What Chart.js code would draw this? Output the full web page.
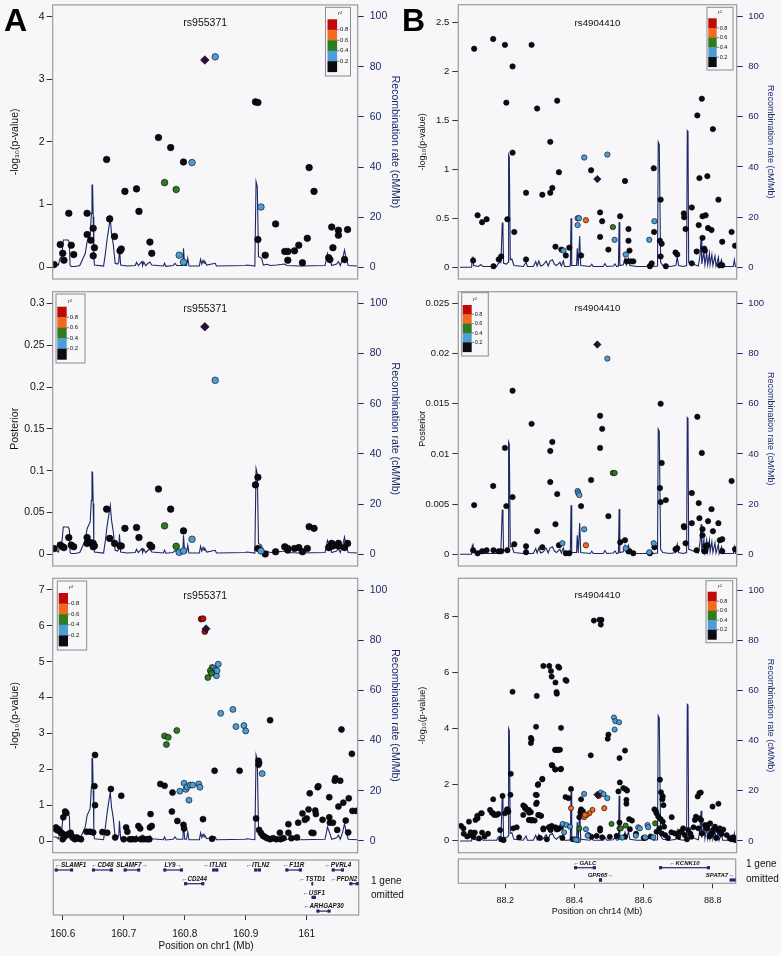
<!DOCTYPE html>
<html><head><meta charset="utf-8">
<script src="https://cdn.jsdelivr.net/npm/chart.js@4.4.1/dist/chart.umd.min.js"></script>
<style>
html,body{margin:0;padding:0;background:#f7f7f9;}
#wrap{position:relative;width:781px;height:956px;overflow:hidden;font-family:"Liberation Sans",Arial,Helvetica,sans-serif;}
canvas{position:absolute;left:0;top:0;}
.lbl{position:absolute;font-weight:bold;font-size:32px;line-height:1;color:#000;}
.om{position:absolute;font-size:10px;line-height:14.4px;color:#111;}
</style></head><body><div id="wrap">
<canvas id="a1" width="781" height="956"></canvas>
<canvas id="a2" width="781" height="956"></canvas>
<canvas id="a3" width="781" height="956"></canvas>
<canvas id="ag" width="781" height="956"></canvas>
<canvas id="b1" width="781" height="956"></canvas>
<canvas id="b2" width="781" height="956"></canvas>
<canvas id="b3" width="781" height="956"></canvas>
<canvas id="bg" width="781" height="956"></canvas>
<div class="lbl" style="left:4px;top:4px">A</div>
<div class="lbl" style="left:402px;top:4px">B</div>
<div class="om" style="left:371px;top:874px">1 gene<br>omitted</div>
<div class="om" style="left:746px;top:857px;line-height:14.7px">1 gene<br>omitted</div>
</div>
<script>
// ---------------- DATA ----------------
// Region A (chr1) : recombination rate
const A_REC_X = [160.5847,160.589,160.593,160.5956,160.5984,160.601,160.609,160.611,160.612,160.6137,160.620,160.628,160.637,160.640,160.645,160.647,160.648,160.649,160.650,160.651,160.652,160.667,160.670,160.673,160.678,160.680,160.683,160.686,160.690,160.692,160.693,160.695,160.705,160.719,160.721,160.724,160.730,160.731,160.733,160.736,160.740,160.743,160.746,160.765,160.767,160.769,160.781,160.784,160.787,160.797,160.798,160.800,160.803,160.805,160.807,160.824,160.826,160.828,160.830,160.832,160.833,160.836,160.850,160.852,160.899,160.902,160.915,160.917,160.919,160.921,160.926,160.929,160.935,160.940,160.951,160.964,160.967,160.989,161.030,161.032,161.034,161.037,161.041,161.049,161.052,161.055,161.059,161.062,161.064,161.068,161.083];
const A_REC_Y = [1.6,1.6,0.9,3.6,4.3,10.9,10.9,9.8,0.9,0.3,0.3,0.7,5.6,10.2,12.9,21.5,32.8,32.8,20.2,4.3,0.9,0.5,5.6,11.6,19.5,13.6,8.9,1.6,1.3,2.3,8.0,0.9,0.5,0.7,2.0,0.7,2.3,0.7,2.1,0.7,1.6,2.1,0.9,0.5,1.6,0.4,0.7,1.6,0.7,0.7,7.6,0.7,0.7,3.6,0.5,0.5,3.2,1.3,2.7,1.6,2.3,0.9,1.6,0.5,0.7,0.9,0.5,34.2,32.2,4.3,3.6,0.9,1.2,0.7,0.9,1.3,0.7,0.5,0.7,2.9,5.6,3.6,0.7,1.3,2.3,0.7,3.6,6.9,4.3,0.7,0.5];
// Region B (chr14) : recombination rate
const B_REC_X = [88.069,88.1027,88.1046,88.1066,88.1085,88.122,88.129,88.136,88.175,88.180,88.1875,88.1913,88.1933,88.195,88.204,88.208,88.2096,88.2116,88.2145,88.219,88.225,88.252,88.260,88.264,88.281,88.288,88.292,88.297,88.302,88.310,88.318,88.324,88.329,88.336,88.342,88.348,88.358,88.362,88.368,88.371,88.382,88.388,88.390,88.392,88.406,88.408,88.411,88.415,88.418,88.445,88.450,88.454,88.483,88.488,88.493,88.512,88.517,88.522,88.527,88.529,88.531,88.541,88.546,88.550,88.556,88.560,88.580,88.608,88.618,88.628,88.640,88.642,88.645,88.649,88.655,88.676,88.693,88.697,88.701,88.714,88.724,88.726,88.728,88.730,88.738,88.748,88.758,88.763,88.766,88.768,88.774,88.777,88.782,88.785,88.790,88.792,88.797,88.800,88.806,88.809,88.816,88.818,88.825,88.828,88.859,88.862,88.865,88.869];
const B_REC_Y = [0,0,3.5,4.3,0.7,0.3,1.0,0.3,0.3,1.6,2.0,17.8,14.0,1.6,1.3,2.0,44.8,44.0,3.0,3.3,0.7,0.3,2.0,0.3,0.3,2.3,0.5,2.5,0.5,1.0,2.5,0.5,2.5,3.0,1.3,0.7,2.0,0.5,2.5,0.3,0.3,0.5,19.5,0.7,0.7,7.6,0.5,12.5,0.7,0.3,1.2,0.3,0.3,1.5,0.3,0.5,1.3,0.3,0.5,18.0,0.7,1.0,3.5,1.0,3.6,0.7,0.3,0.3,1.5,0.3,0.5,49.9,49.0,2.0,0.7,0.3,0.7,4.0,0.7,0.3,0.7,54.4,54.0,2.0,1.6,1.0,0.5,5.0,12.0,1.3,6.0,1.0,5.6,1.0,5.6,1.0,5.0,0.7,4.5,0.5,4.0,0.3,3.0,0.3,0.3,3.0,0.3,0.3];

// Panel A1: -log10(p) ; [position Mb, value] grouped by r2 class
const A1_BLACK = [[160.586,0.04],[160.596,0.36],[160.600,0.22],[160.602,0.11],[160.610,0.86],[160.614,0.35],[160.618,0.20],[160.640,0.86],[160.640,0.52],[160.646,0.43],[160.650,0.62],[160.652,0.31],[160.650,0.18],[160.672,1.72],[160.677,0.77],[160.685,0.49],[160.694,0.26],[160.696,0.29],[160.702,1.21],[160.721,1.25],[160.725,0.89],[160.743,0.40],[160.746,0.22],[160.757,2.07],[160.777,1.91],[160.798,1.68],[160.916,2.64],[160.920,2.63],[160.920,0.44],[160.932,0.19],[160.949,0.69],[160.964,0.25],[160.969,0.25],[160.969,0.11],[160.980,0.26],[160.987,0.35],[160.993,0.07],[161.001,0.46],[161.004,1.59],[161.012,1.21],[161.036,0.15],[161.038,0.12],[161.041,0.64],[161.043,0.31],[161.052,0.59],[161.052,0.51],[161.062,0.12],[161.067,0.60]];
const A1_BLUE = [[160.791,0.19],[160.798,0.08],[160.812,1.67],[160.850,3.36],[160.925,0.96]];
const A1_GREEN = [[160.767,1.35],[160.786,1.24]];
const A1_LEAD = [[160.833,3.31]];
// Panel A2: posterior
const A2_BLACK = [[160.586,0.0068],[160.596,0.011],[160.600,0.009],[160.602,0.008],[160.610,0.020],[160.614,0.011],[160.618,0.009],[160.640,0.020],[160.640,0.013],[160.646,0.014],[160.650,0.013],[160.652,0.010],[160.650,0.009],[160.672,0.054],[160.677,0.019],[160.685,0.013],[160.694,0.010],[160.696,0.010],[160.702,0.031],[160.721,0.032],[160.725,0.020],[160.743,0.011],[160.746,0.009],[160.757,0.078],[160.777,0.054],[160.798,0.028],[160.916,0.083],[160.920,0.092],[160.920,0.007],[160.932,0.0004],[160.949,0.003],[160.964,0.009],[160.969,0.007],[160.969,0.005],[160.980,0.007],[160.987,0.008],[160.993,0.003],[161.001,0.007],[161.004,0.033],[161.012,0.031],[161.036,0.008],[161.038,0.009],[161.041,0.013],[161.043,0.010],[161.052,0.013],[161.052,0.010],[161.062,0.008],[161.067,0.013]];
const A2_BLUE = [[160.791,0.0024],[160.798,0.004],[160.812,0.018],[160.850,0.208],[160.925,0.004]];
const A2_GREEN = [[160.767,0.034],[160.786,0.0096]];
const A2_LEAD = [[160.833,0.272]];
// Panel A3: -log10(p)
const A3_BLACK = [[160.586,0.35],[160.589,0.38],[160.591,0.30],[160.593,0.33],[160.596,0.26],[160.598,0.22],[160.600,0.20],[160.601,0.66],[160.604,0.82],[160.606,0.78],[160.600,0.05],[160.603,0.12],[160.607,0.17],[160.610,0.20],[160.613,0.23],[160.616,0.12],[160.620,0.05],[160.623,0.10],[160.626,0.07],[160.630,0.05],[160.639,0.26],[160.645,0.26],[160.650,0.24],[160.653,2.40],[160.652,1.53],[160.653,1.00],[160.665,0.25],[160.673,0.23],[160.679,1.45],[160.686,0.10],[160.696,1.26],[160.700,0.05],[160.704,0.38],[160.706,0.26],[160.710,0.05],[160.714,0.05],[160.719,0.05],[160.724,0.42],[160.727,0.35],[160.728,0.05],[160.733,0.05],[160.738,0.05],[160.743,0.38],[160.746,0.42],[160.744,0.75],[160.742,0.05],[160.760,1.59],[160.767,1.54],[160.780,1.35],[160.779,0.82],[160.788,0.56],[160.798,0.45],[160.799,0.35],[160.830,0.61],[160.845,0.06],[160.849,1.96],[160.890,1.96],[160.940,3.37],[160.921,2.24],[160.922,2.18],[160.921,2.13],[160.917,0.63],[160.922,0.31],[160.925,0.22],[160.928,0.15],[160.931,0.12],[160.935,0.08],[160.940,0.05],[160.945,0.08],[160.950,0.05],[160.956,0.23],[160.957,0.05],[160.962,0.08],[160.970,0.23],[160.970,0.47],[160.975,0.08],[160.984,0.10],[160.986,0.51],[160.993,0.77],[160.997,0.59],[161.000,0.63],[161.003,0.88],[161.005,1.33],[161.008,0.23],[161.011,0.22],[161.014,0.85],[161.015,0.75],[161.018,1.50],[161.019,1.53],[161.026,0.59],[161.037,1.22],[161.037,0.66],[161.038,0.51],[161.043,0.51],[161.046,1.68],[161.047,1.75],[161.055,1.68],[161.050,0.31],[161.052,0.96],[161.060,1.07],[161.064,0.57],[161.068,0.24],[161.069,1.19],[161.074,2.43],[161.075,0.84],[161.081,0.84],[161.057,3.11]];
const A3_BLUE = [[160.792,1.39],[160.799,1.61],[160.802,1.44],[160.804,1.51],[160.809,1.56],[160.813,1.56],[160.823,1.59],[160.825,1.50],[160.807,1.14],[160.845,4.84],[160.847,4.82],[160.850,4.77],[160.852,4.61],[160.855,4.93],[160.853,4.75],[160.859,3.56],[160.879,3.67],[160.884,3.19],[160.897,3.22],[160.900,3.07],[160.927,1.88]];
const A3_GREEN = [[160.767,2.93],[160.773,2.89],[160.770,2.69],[160.787,3.08],[160.838,4.56],[160.842,4.75],[160.844,4.68]];
const A3_RED = [[160.827,6.19],[160.830,6.20],[160.833,5.84]];
const A3_LEAD = [[160.835,5.92]];

// Panel B1: -log10(p)
const B1_BLACK = [[88.110,2.23],[88.120,0.53],[88.133,0.46],[88.146,0.49],[88.107,0.07],[88.165,2.33],[88.166,0.01],[88.181,0.08],[88.188,0.11],[88.199,2.27],[88.203,1.68],[88.206,0.49],[88.221,2.05],[88.221,1.17],[88.226,0.36],[88.260,0.76],[88.260,0.08],[88.276,2.27],[88.292,1.62],[88.307,0.74],[88.330,0.76],[88.330,1.28],[88.336,0.81],[88.345,0.21],[88.350,1.70],[88.355,0.97],[88.362,0.18],[88.375,0.12],[88.385,0.20],[88.419,0.12],[88.448,0.99],[88.474,0.56],[88.474,0.31],[88.480,0.47],[88.498,0.18],[88.532,0.52],[88.546,0.88],[88.551,0.06],[88.556,0.39],[88.556,0.27],[88.559,0.17],[88.563,0.06],[88.570,0.06],[88.618,0.01],[88.623,0.04],[88.629,1.01],[88.630,0.36],[88.649,0.69],[88.647,0.27],[88.652,0.24],[88.649,0.11],[88.664,0.01],[88.692,0.15],[88.697,0.13],[88.716,0.55],[88.717,0.51],[88.721,0.39],[88.739,0.61],[88.739,0.04],[88.755,1.55],[88.759,0.43],[88.761,0.91],[88.768,1.72],[88.770,0.52],[88.770,0.30],[88.775,0.19],[88.777,0.17],[88.779,0.53],[88.784,0.93],[88.786,0.40],[88.796,0.38],[88.800,1.41],[88.753,0.16],[88.816,0.69],[88.820,0.02],[88.827,0.02],[88.827,0.26],[88.854,0.36],[88.864,0.22]];
const B1_BLUE = [[88.368,0.17],[88.409,0.50],[88.413,0.50],[88.409,0.43],[88.428,1.12],[88.495,1.15],[88.516,0.28],[88.548,0.13],[88.616,0.28],[88.631,0.47]];
const B1_GREEN = [[88.511,0.41]];
const B1_ORANGE = [[88.433,0.48]];
const B1_LEAD = [[88.466,0.90]];
// Panel B2: posterior
const B2_BLACK = [[88.110,0.0049],[88.107,0.0004],[88.120,0.0001],[88.133,0.0003],[88.146,0.0004],[88.165,0.0068],[88.166,0.0004],[88.181,0.0003],[88.188,0.0003],[88.199,0.0106],[88.203,0.0048],[88.206,0.0004],[88.221,0.0163],[88.221,0.0057],[88.226,0.0010],[88.260,0.0008],[88.260,0.0002],[88.276,0.0130],[88.292,0.0023],[88.307,0.0007],[88.330,0.0072],[88.330,0.0103],[88.336,0.0112],[88.345,0.0030],[88.350,0.0060],[88.355,0.0009],[88.375,0.0001],[88.385,0.0001],[88.419,0.0048],[88.448,0.0074],[88.474,0.0138],[88.474,0.0106],[88.480,0.0125],[88.498,0.0038],[88.532,0.0012],[88.546,0.0014],[88.556,0.0003],[88.559,0.0003],[88.570,0.0001],[88.618,0.0001],[88.631,0.0007],[88.649,0.0150],[88.647,0.0066],[88.652,0.0091],[88.649,0.0052],[88.664,0.0054],[88.692,0.0005],[88.697,0.0006],[88.716,0.0028],[88.717,0.0027],[88.721,0.0011],[88.739,0.0061],[88.739,0.0031],[88.755,0.0137],[88.759,0.0051],[88.761,0.0036],[88.768,0.0101],[88.770,0.0025],[88.770,0.0019],[88.775,0.0003],[88.777,0.0003],[88.779,0.0008],[88.784,0.0009],[88.786,0.0033],[88.796,0.0045],[88.800,0.0023],[88.816,0.0031],[88.820,0.0014],[88.827,0.0015],[88.827,0.0003],[88.854,0.0073],[88.864,0.0005],[88.753,0.0004]];
const B2_BLUE = [[88.365,0.0011],[88.409,0.0063],[88.411,0.0061],[88.414,0.0059],[88.428,0.0025],[88.495,0.0195],[88.548,0.0006],[88.616,0.0002],[88.629,0.0011]];
const B2_GREEN = [[88.511,0.0081],[88.516,0.0081]];
const B2_ORANGE = [[88.433,0.0009]];
const B2_LEAD = [[88.466,0.0209]];
// Panel B3: -log10(p)
const B3_BLACK = [[88.456,7.86],[88.472,7.89],[88.478,7.89],[88.476,7.72],[88.310,6.24],[88.327,6.24],[88.332,6.06],[88.334,5.86],[88.345,5.65],[88.353,6.22],[88.356,6.18],[88.348,5.31],[88.349,5.25],[88.374,5.74],[88.377,5.71],[88.221,5.32],[88.291,5.17],[88.289,4.07],[88.361,4.03],[88.274,3.67],[88.276,3.61],[88.274,3.49],[88.345,3.25],[88.351,3.25],[88.358,3.25],[88.336,2.69],[88.345,2.54],[88.361,2.57],[88.307,2.21],[88.295,2.02],[88.447,3.05],[88.498,3.79],[88.496,3.64],[88.546,3.22],[88.530,2.95],[88.531,2.08],[88.527,1.76],[88.541,1.88],[88.548,1.84],[88.552,1.79],[88.550,1.46],[88.550,1.32],[88.390,1.85],[88.374,1.56],[88.383,1.52],[88.419,1.48],[88.216,2.39],[88.215,1.64],[88.192,1.60],[88.209,1.04],[88.165,1.48],[88.180,0.96],[88.165,0.98],[88.205,1.12],[88.288,1.64],[88.291,1.36],[88.252,1.26],[88.257,1.16],[88.263,1.10],[88.268,1.10],[88.274,1.02],[88.268,0.74],[88.276,0.72],[88.285,0.72],[88.297,0.92],[88.303,0.89],[88.310,0.44],[88.327,0.48],[88.334,0.53],[88.345,0.48],[88.353,0.42],[88.361,0.48],[88.419,1.12],[88.417,1.02],[88.424,1.06],[88.419,0.92],[88.414,0.84],[88.474,0.44],[88.474,0.36],[88.530,0.65],[88.558,0.77],[88.566,0.72],[88.631,1.12],[88.635,1.06],[88.647,2.18],[88.650,1.73],[88.655,1.58],[88.637,0.98],[88.642,0.86],[88.649,0.77],[88.655,0.68],[88.659,0.50],[88.645,0.44],[88.637,0.32],[88.652,0.26],[88.662,0.20],[88.654,1.48],[88.657,1.27],[88.681,0.84],[88.756,1.58],[88.761,1.70],[88.765,1.72],[88.799,1.22],[88.816,1.32],[88.690,0.26],[88.700,0.14],[88.705,0.32],[88.714,0.44],[88.719,0.20],[88.729,0.38],[88.738,0.14],[88.744,0.48],[88.748,0.74],[88.751,0.86],[88.758,0.44],[88.768,0.26],[88.777,0.56],[88.782,0.44],[88.792,0.62],[88.797,0.26],[88.806,0.50],[88.816,0.36],[88.825,0.24],[88.830,0.40],[88.849,0.08],[88.857,0.12],[88.760,0.80],[88.766,0.74],[88.785,0.56],[88.800,0.38],[88.820,0.44],[88.854,0.05],[88.862,0.10],[88.072,0.53],[88.079,0.44],[88.095,0.68],[88.098,0.20],[88.108,0.14],[88.112,0.29],[88.114,0.74],[88.120,0.80],[88.124,0.08],[88.130,0.98],[88.133,0.29],[88.161,1.00],[88.168,0.92],[88.175,0.92],[88.185,0.38],[88.188,0.05],[88.199,0.98],[88.207,1.10],[88.223,0.44],[88.233,0.48],[88.252,0.92],[88.257,1.21],[88.262,1.12],[88.269,1.00],[88.271,0.74],[88.278,0.74],[88.289,1.31],[88.291,1.63],[88.294,1.99],[88.307,2.19],[88.295,0.92],[88.303,0.89],[88.310,0.40],[88.334,2.70],[88.344,2.55],[88.360,2.55],[88.344,3.24],[88.353,3.24],[88.349,0.40],[88.326,0.48],[88.331,0.38],[88.119,0.89],[88.132,0.98],[88.156,1.10],[88.080,0.25],[88.090,0.15],[88.100,0.30],[88.140,0.15],[88.150,0.25],[88.195,0.02],[88.240,0.12],[88.300,0.10],[88.320,0.05],[88.365,0.10],[88.395,0.05],[88.440,0.20],[88.449,0.14],[88.464,0.17],[88.480,0.12],[88.502,0.14],[88.522,0.17],[88.546,0.14],[88.560,0.41],[88.578,0.25],[88.600,0.10],[88.620,0.15],[88.670,0.10],[88.680,0.30],[88.710,0.30],[88.725,0.05],[88.735,0.25],[88.790,0.15],[88.810,0.10],[88.840,0.20],[88.865,0.02]];
const B3_BLUE = [[88.514,4.40],[88.518,4.27],[88.529,4.23],[88.516,3.97],[88.428,1.67],[88.476,1.72],[88.484,1.66],[88.495,1.52],[88.366,0.60],[88.377,0.56],[88.387,0.50],[88.370,0.30],[88.433,0.41],[88.438,0.18],[88.584,0.48],[88.589,0.44],[88.611,0.56],[88.613,0.48],[88.604,0.12],[88.628,0.12],[88.577,0.18],[88.538,0.11],[88.401,0.05],[88.411,0.02],[88.405,0.03]];
const B3_GREEN = [[88.414,0.44],[88.507,0.60],[88.530,0.44],[88.534,0.44],[88.548,0.54],[88.633,0.62]];
const B3_ORANGE = [[88.390,1.16],[88.486,1.16],[88.452,1.10],[88.443,0.98],[88.435,0.92],[88.428,0.84],[88.430,0.92]];
const B3_RED = [[88.470,1.60]];
const B3_LEAD = [[88.466,1.64]];

// Tick values
const TICKS_A1 = [0,1,2,3,4];
const TICKS_POST_A = [0,0.05,0.1,0.15,0.2,0.25,0.3];
const TICKS_A3 = [0,1,2,3,4,5,6,7];
const TICKS_B1 = [0,0.5,1,1.5,2,2.5];
const TICKS_POST_B = [0,0.005,0.01,0.015,0.02,0.025];
const TICKS_B3 = [0,2,4,6,8];
const TICKS_REC = [0,20,40,60,80,100];
const TICKS_XA = [160.6,160.7,160.8,160.9,161];
const TICKS_XB = [88.2,88.4,88.6,88.8];
const LEG_LABELS = ['0.8','0.6','0.4','0.2'];

// Genes
const GA_NAME = ['SLAMF1','CD48','SLAMF7','LY9','ITLN1','ITLN2','F11R','PVRL4','CD244','TSTD1','PFDN2','USF1','ARHGAP30'];
const GA_START = [160.587,160.648,160.700,160.765,160.845,160.914,160.965,161.041,160.799,161.008,161.070,161.008,161.016];
const GA_END = [160.617,160.682,160.727,160.797,160.855,160.925,160.992,161.061,160.832,161.010,161.085,161.015,161.039];
const GA_STRAND = ['-','-','+','+','-','-','-','-','-','-','-','-','-'];
const GA_ROW = [0,0,0,0,0,0,0,0,1,1,1,2,3];
const GB_NAME = ['GALC','KCNK10','GPR65','SPATA7'];
const GB_START = [88.399,88.645,88.471,88.849];
const GB_END = [88.462,88.792,88.480,88.866];
const GB_STRAND = ['-','-','+','+'];
const GB_ROW = [0,0,1,1];

// ---------------- STYLE / RENDER ----------------
const FONT = '"Liberation Sans", Arial, Helvetica, sans-serif';
Chart.defaults.font.family = FONT;
const BG = '#f7f7f9';
const NAVY = '#1c2767';
const FRAME = '#9a9a9a';
const R2COL = ['#0b0b14','#4d9ed8','#2f7b1f','#f26a1f','#c00a0a','#2a0e36'];
const pts = a => a.map(p => ({x: p[0], y: p[1]}));

function panelPlugin(o) {
  return { id: 'deco', afterDraw(chart) {
    const {ctx, chartArea: a} = chart;
    ctx.save();
    ctx.strokeStyle = FRAME; ctx.lineWidth = 1.2;
    ctx.strokeRect(a.left, a.top, a.right - a.left, a.bottom - a.top);
    ctx.fillStyle = '#111'; ctx.textAlign = 'center'; ctx.textBaseline = 'middle';
    ctx.font = o.titleFs + 'px ' + FONT;
    ctx.fillText(o.title, (a.left + a.right) / 2, o.titleY);
    const L = o.leg;
    ctx.fillStyle = BG; ctx.fillRect(L.x, L.y, L.w, L.h);
    ctx.strokeStyle = '#8a8a8a'; ctx.lineWidth = 1; ctx.strokeRect(L.x, L.y, L.w, L.h);
    const seg = (L.bb - L.bt) / 5;
    [4,3,2,1,0].forEach((c, i) => { ctx.fillStyle = R2COL[c]; ctx.fillRect(L.bx, L.bt + i * seg, L.bw, seg + 0.4); });
    ctx.strokeStyle = '#333'; ctx.lineWidth = 0.6; ctx.fillStyle = '#111';
    ctx.font = o.legFs + 'px ' + FONT; ctx.textAlign = 'left';
    LEG_LABELS.forEach((t, i) => {
      const yy = L.bt + (i + 1) * seg;
      ctx.beginPath(); ctx.moveTo(L.bx + L.bw, yy); ctx.lineTo(L.bx + L.bw + 2.4, yy); ctx.stroke();
      ctx.fillText(t, L.bx + L.bw + 3, yy);
    });
    ctx.font = 'italic ' + o.legFs + 'px ' + FONT; ctx.textAlign = 'center';
    ctx.fillText('r\u00B2', L.bx + L.bw + 3, L.bt - 5.5);
    ctx.restore();
  }};
}

function panel(id, o) {
  const groups = [[o.lead, 5], [o.red, 4], [o.orange, 3], [o.green, 2], [o.blue, 1], [o.black, 0]];
  const datasets = [];
  groups.forEach(([arr, c], k) => {
    if (!arr) return;
    datasets.push({ type: 'scatter', data: pts(arr), xAxisID: 'x', yAxisID: 'y', order: k,
      pointBackgroundColor: R2COL[c], pointBorderColor: '#000', pointBorderWidth: 0.6,
      pointRadius: c === 5 ? o.r + 1 : o.r, pointHoverRadius: 0,
      pointStyle: c === 5 ? 'rectRot' : 'circle' });
  });
  datasets.push({ type: 'line', data: o.rx.map((x, i) => ({x: x, y: o.ry[i]})), xAxisID: 'x', yAxisID: 'y2', order: 6,
    borderColor: NAVY, borderWidth: 1.1, pointRadius: 0, tension: 0, fill: false, showLine: true });
  new Chart(document.getElementById(id), {
    type: 'scatter',
    data: { datasets },
    options: {
      responsive: false, animation: false, devicePixelRatio: 1, events: [],
      layout: { padding: { left: o.pl, right: o.prt, top: o.top, bottom: 956 - o.bottom } },
      plugins: { legend: { display: false }, tooltip: { enabled: false } },
      scales: {
        x: { type: 'linear', display: false, min: o.xmin, max: o.xmax },
        y: { type: 'linear', position: 'left', min: o.ymin, max: o.ymax,
          afterBuildTicks: s => { s.ticks = o.yt.map(v => ({value: v})); },
          afterFit: s => { s.width = o.wl; s.paddingTop = 0; s.paddingBottom = 0; },
          ticks: { autoSkip: false, callback: v => String(v), font: { size: o.fs }, color: '#111', padding: o.lpad },
          grid: { drawOnChartArea: false, drawTicks: true, tickLength: 6, color: '#333', tickColor: '#333', lineWidth: 1 },
          border: { display: false },
          title: { display: true, text: o.ylab, font: { size: o.tfs }, color: '#111', padding: 0 } },
        y2: { type: 'linear', position: 'right', min: -4.67, max: 104.67,
          afterBuildTicks: s => { s.ticks = TICKS_REC.map(v => ({value: v})); },
          afterFit: s => { s.width = o.wr; s.paddingTop = 0; s.paddingBottom = 0; },
          ticks: { autoSkip: false, callback: v => String(v), font: { size: o.fs }, color: NAVY, padding: o.rpad },
          grid: { drawOnChartArea: false, drawTicks: true, tickLength: 6, color: NAVY, tickColor: NAVY, lineWidth: 1 },
          border: { display: false },
          title: { display: true, text: 'Recombination rate (cM/Mb)', font: { size: o.tfs }, color: NAVY, padding: 0 } }
      }
    },
    plugins: [panelPlugin(o)]
  });
}

function genePlugin(g) {
  return { id: 'genes', afterDraw(chart) {
    const {ctx, chartArea: a, scales: {x}} = chart;
    ctx.save();
    ctx.strokeStyle = FRAME; ctx.lineWidth = 1.2;
    ctx.strokeRect(a.left, a.top, a.right - a.left, a.bottom - a.top);
    ctx.font = 'italic bold ' + g.fs + 'px ' + FONT;
    ctx.textBaseline = 'middle'; ctx.textAlign = 'left';
    for (let i = 0; i < g.names.length; i++) {
      const x0 = x.getPixelForValue(g.start[i]), x1 = x.getPixelForValue(g.end[i]);
      const yy = a.top + g.row0 + g.rows[i] * g.pitch;
      const w = Math.max(x1 - x0, 1.5);
      ctx.fillStyle = NAVY;
      ctx.fillRect(x0, yy - 0.6, w, 1.2);
      const bw = Math.min(3, w);
      ctx.fillRect(x0, yy - 1.6, bw, 3.2);
      ctx.fillRect(x0 + w - bw, yy - 1.6, bw, 3.2);
      const label = g.strand[i] === '+' ? g.names[i] + '\u2192' : '\u2190' + g.names[i];
      const tw = ctx.measureText(label).width;
      let lx = (x0 + x1) / 2 - tw / 2;
      lx = Math.max(a.left + 1.5, Math.min(a.right - 1.5 - tw, lx));
      ctx.fillStyle = '#111';
      ctx.fillText(label, lx, yy - g.lab);
    }
    ctx.restore();
  }};
}

function geneTrack(id, g) {
  new Chart(document.getElementById(id), {
    type: 'scatter',
    data: { datasets: [{ data: [] }] },
    options: {
      responsive: false, animation: false, devicePixelRatio: 1, events: [],
      layout: { padding: { left: g.l, right: 781 - g.r, top: g.t, bottom: 956 - g.b - g.h } },
      plugins: { legend: { display: false }, tooltip: { enabled: false } },
      scales: {
        x: { type: 'linear', position: 'bottom', min: g.xmin, max: g.xmax,
          afterBuildTicks: s => { s.ticks = g.ticks.map(v => ({value: v})); },
          afterFit: s => { s.height = g.h; s.paddingLeft = 0; s.paddingRight = 0; },
          ticks: { autoSkip: false, maxRotation: 0, callback: v => String(v), font: { size: g.tickFs }, color: '#111', padding: g.tpad },
          grid: { drawOnChartArea: false, drawTicks: true, tickLength: 5, color: '#333', tickColor: '#333' },
          border: { display: false },
          title: { display: true, text: g.xlab, font: { size: g.titleFs }, color: '#111', padding: 0 } },
        y: { display: false, min: 0, max: 1 }
      }
    },
    plugins: [genePlugin(g)]
  });
}

const COLA = { xmin: 160.5836, xmax: 161.0836, pl: 8.7, wl: 44, wr: 43.6, prt: 379.7, fs: 10.5, tfs: 10.5, lpad: 2, rpad: 6, r: 3.3, titleFs: 10.5, legFs: 6, title: 'rs955371', rx: A_REC_X, ry: A_REC_Y };
const COLB = { xmin: 88.0642, xmax: 88.8688, pl: 417.6, wl: 40.7, wr: 38.7, prt: 5.6, fs: 9.5, tfs: 9, lpad: 3, rpad: 5.5, r: 2.7, titleFs: 9.7, legFs: 5.6, title: 'rs4904410', rx: B_REC_X, ry: B_REC_Y };
const LOGP = '-log\u2081\u2080(p-value)';

panel('a1', Object.assign({}, COLA, { top: 4.7, bottom: 279, ymin: -0.19, ymax: 4.19, yt: TICKS_A1, ylab: LOGP, titleY: 23,
  black: A1_BLACK, blue: A1_BLUE, green: A1_GREEN, lead: A1_LEAD,
  leg: { x: 325.5, y: 7.3, w: 25, h: 68.7, bx: 327.5, bw: 9.6, bt: 19.3, bb: 71.7 } }));
panel('a2', Object.assign({}, COLA, { top: 291.7, bottom: 566, ymin: -0.014, ymax: 0.314, yt: TICKS_POST_A, ylab: 'Posterior', titleY: 309.3,
  black: A2_BLACK, blue: A2_BLUE, green: A2_GREEN, lead: A2_LEAD,
  leg: { x: 56, y: 294, w: 29, h: 69, bx: 57.3, bw: 9.4, bt: 306.7, bb: 359.3 } }));
panel('a3', Object.assign({}, COLA, { top: 578.3, bottom: 852.7, ymin: -0.326, ymax: 7.326, yt: TICKS_A3, ylab: LOGP, titleY: 596, r: 3,
  black: A3_BLACK, blue: A3_BLUE, green: A3_GREEN, red: A3_RED, lead: A3_LEAD,
  leg: { x: 57.3, y: 581, w: 29.4, h: 69, bx: 58.7, bw: 9.3, bt: 593, bb: 646 } }));
panel('b1', Object.assign({}, COLB, { top: 4.7, bottom: 279, ymin: -0.12, ymax: 2.68, yt: TICKS_B1, ylab: LOGP, titleY: 23,
  black: B1_BLACK, blue: B1_BLUE, green: B1_GREEN, orange: B1_ORANGE, lead: B1_LEAD,
  leg: { x: 707, y: 7.3, w: 26, h: 62.7, bx: 708.3, bw: 8.4, bt: 18.3, bb: 66.7 } }));
panel('b2', Object.assign({}, COLB, { top: 291.7, bottom: 566, ymin: -0.001167, ymax: 0.026167, yt: TICKS_POST_B, ylab: 'Posterior', titleY: 308.3,
  black: B2_BLACK, blue: B2_BLUE, green: B2_GREEN, orange: B2_ORANGE, lead: B2_LEAD,
  leg: { x: 461.7, y: 292.7, w: 26.6, h: 63.3, bx: 462.7, bw: 9, bt: 305, bb: 351.7 } }));
panel('b3', Object.assign({}, COLB, { top: 578.3, bottom: 852.7, ymin: -0.429, ymax: 9.371, yt: TICKS_B3, ylab: LOGP, titleY: 595, r: 2.6,
  black: B3_BLACK, blue: B3_BLUE, green: B3_GREEN, orange: B3_ORANGE, red: B3_RED, lead: B3_LEAD,
  leg: { x: 706, y: 580.7, w: 26.7, h: 62, bx: 707.7, bw: 9, bt: 591.7, bb: 639.3 } }));

geneTrack('ag', { l: 53.3, r: 358.7, t: 860, b: 915, h: 37, xmin: 160.5846, xmax: 161.0852, ticks: TICKS_XA,
  tickFs: 10, titleFs: 10, tpad: 8, xlab: 'Position on chr1 (Mb)',
  names: GA_NAME, start: GA_START, end: GA_END, strand: GA_STRAND, rows: GA_ROW, row0: 10, pitch: 13.7, lab: 4.6, fs: 6.3 });
geneTrack('bg', { l: 458.3, r: 735.7, t: 859, b: 883.3, h: 33.8, xmin: 88.0642, xmax: 88.8665, ticks: TICKS_XB,
  tickFs: 9, titleFs: 9, tpad: 7.3, xlab: 'Position on chr14 (Mb)',
  names: GB_NAME, start: GB_START, end: GB_END, strand: GB_STRAND, rows: GB_ROW, row0: 8.7, pitch: 12.3, lab: 4.3, fs: 6 });
</script>
</body></html>
